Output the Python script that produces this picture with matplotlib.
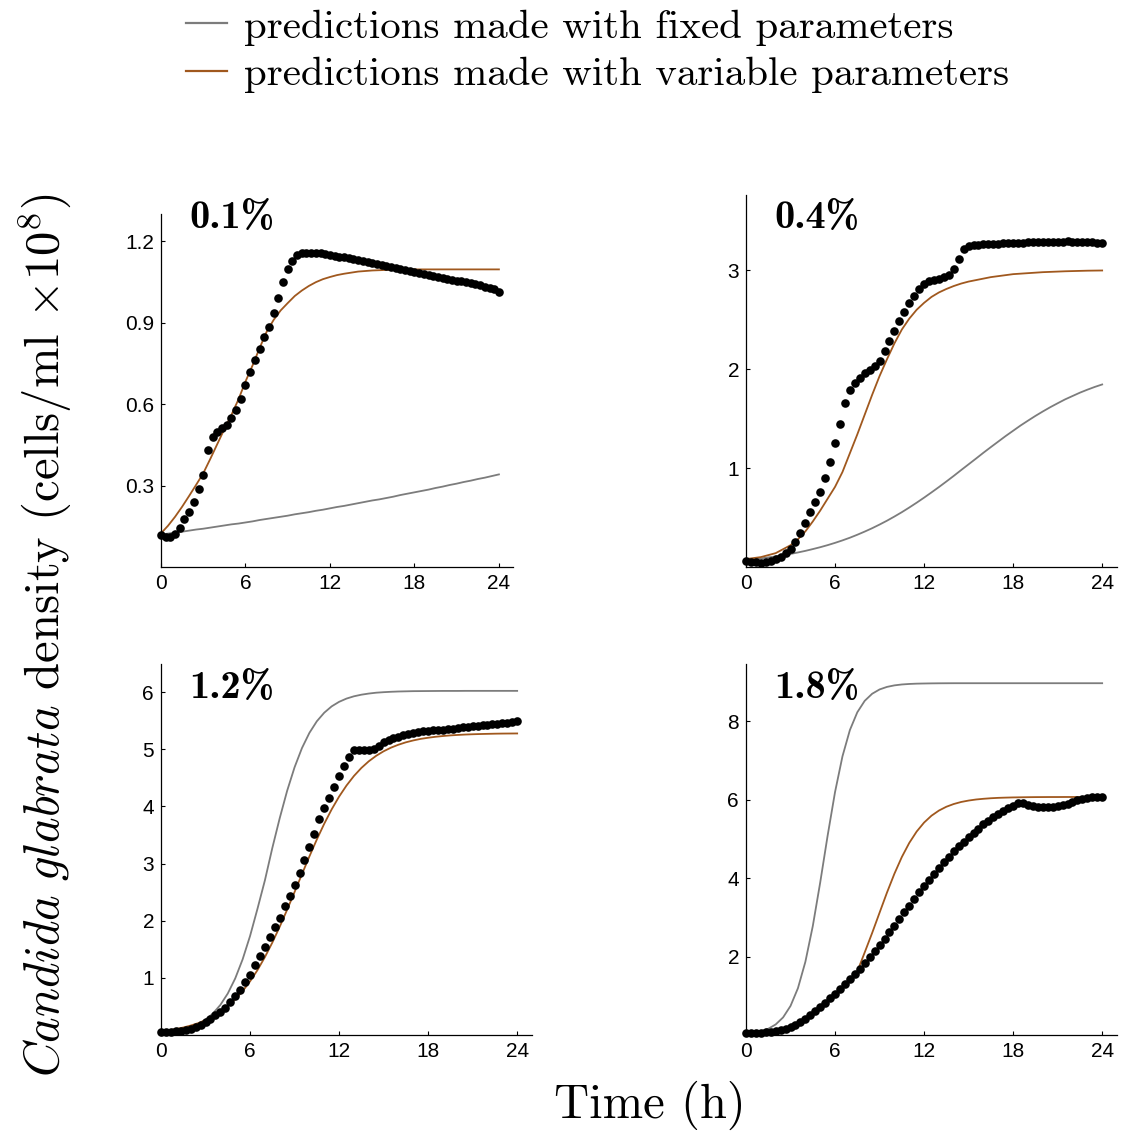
import numpy as np
import matplotlib
matplotlib.use("Agg")
import matplotlib.pyplot as plt
from matplotlib.lines import Line2D

# ---------------- data ----------------
panel_labels = ["0.1%", "0.4%", "1.2%", "1.8%"]
legend_labels = ["predictions made with fixed parameters",
                 "predictions made with variable parameters"]
x_ticks = [0, 6, 12, 18, 24]
y_ticks_01 = [0.3, 0.6, 0.9, 1.2]
y_ticks_04 = [1, 2, 3]
y_ticks_12 = [1, 2, 3, 4, 5, 6]
y_ticks_18 = [2, 4, 6, 8]
y_top = [1.30, 3.76, 6.49, 9.46]

# observation times (every 20 min) and model-curve times (every 30 min)
t_obs = np.arange(73) / 3.0
t_model = np.arange(49) * 0.5

obs_01 = [0.118, 0.112, 0.112, 0.122, 0.145, 0.175, 0.203, 0.24, 0.289, 0.34,
          0.43, 0.478, 0.496, 0.511, 0.522, 0.548, 0.58, 0.62, 0.67, 0.718,
          0.762, 0.804, 0.846, 0.885, 0.935, 0.99, 1.05, 1.097, 1.128, 1.15,
          1.157, 1.158, 1.158, 1.158, 1.156, 1.153, 1.149, 1.146, 1.143, 1.14,
          1.137, 1.133, 1.13, 1.127, 1.123, 1.12, 1.116, 1.113, 1.11, 1.106,
          1.102, 1.098, 1.094, 1.09, 1.086, 1.083, 1.079, 1.075, 1.071, 1.068,
          1.064, 1.061, 1.058, 1.055, 1.052, 1.048, 1.045, 1.042, 1.039, 1.033,
          1.028, 1.022, 1.013]
obs_04 = [0.064, 0.054, 0.047, 0.044, 0.047, 0.057, 0.077, 0.104, 0.138, 0.178,
          0.252, 0.339, 0.447, 0.551, 0.658, 0.756, 0.904, 1.061, 1.253, 1.448,
          1.659, 1.79, 1.858, 1.911, 1.96, 1.995, 2.036, 2.08, 2.18, 2.28,
          2.39, 2.49, 2.58, 2.665, 2.74, 2.808, 2.859, 2.888, 2.902, 2.916,
          2.935, 2.955, 3.01, 3.11, 3.21, 3.24, 3.25, 3.255, 3.26, 3.26,
          3.265, 3.265, 3.27, 3.27, 3.27, 3.275, 3.275, 3.28, 3.28, 3.28,
          3.28, 3.285, 3.285, 3.29, 3.29, 3.295, 3.29, 3.29, 3.285, 3.285,
          3.28, 3.275, 3.27]
obs_12 = [0.058, 0.058, 0.058, 0.064, 0.076, 0.087, 0.11, 0.14, 0.18, 0.227,
          0.286, 0.344, 0.402, 0.478, 0.571, 0.676, 0.787, 0.921, 1.055, 1.23,
          1.387, 1.533, 1.707, 1.894, 2.051, 2.255, 2.43, 2.622, 2.838, 3.059,
          3.292, 3.514, 3.77, 3.963, 4.138, 4.33, 4.528, 4.703, 4.866, 4.994,
          4.994, 4.98, 4.98, 5.01, 5.06, 5.12, 5.16, 5.19, 5.22, 5.245,
          5.265, 5.285, 5.30, 5.31, 5.32, 5.33, 5.335, 5.34, 5.35, 5.36,
          5.37, 5.38, 5.39, 5.40, 5.41, 5.42, 5.43, 5.44, 5.445, 5.45,
          5.46, 5.475, 5.49]
obs_18 = [0.06, 0.06, 0.06, 0.06, 0.065, 0.077, 0.094, 0.12, 0.153, 0.204,
          0.264, 0.332, 0.417, 0.50, 0.60, 0.71, 0.82, 0.94, 1.05, 1.17,
          1.29, 1.42, 1.55, 1.69, 1.83, 1.98, 2.13, 2.30, 2.46, 2.62,
          2.79, 2.96, 3.13, 3.30, 3.47, 3.64, 3.80, 3.95, 4.11, 4.26,
          4.40, 4.55, 4.68, 4.81, 4.93, 5.05, 5.16, 5.26, 5.37, 5.46,
          5.55, 5.63, 5.71, 5.78, 5.85, 5.91, 5.91, 5.87, 5.84, 5.82,
          5.81, 5.81, 5.82, 5.84, 5.87, 5.90, 5.95, 5.99, 6.02, 6.04,
          6.06, 6.07, 6.08]

fixed_01 = [0.120, 0.123, 0.127, 0.130, 0.134, 0.138, 0.141, 0.145, 0.149, 0.153,
            0.157, 0.160, 0.164, 0.168, 0.173, 0.177, 0.181, 0.185, 0.189, 0.194,
            0.198, 0.202, 0.207, 0.211, 0.216, 0.221, 0.225, 0.230, 0.235, 0.240,
            0.245, 0.249, 0.254, 0.259, 0.265, 0.270, 0.275, 0.280, 0.285, 0.291,
            0.296, 0.302, 0.307, 0.313, 0.318, 0.324, 0.329, 0.335, 0.341]
variable_01 = [0.124, 0.152, 0.185, 0.222, 0.262, 0.303, 0.345, 0.398, 0.453, 0.508,
               0.560, 0.617, 0.683, 0.742, 0.806, 0.866, 0.910, 0.945, 0.972, 0.998,
               1.018, 1.035, 1.049, 1.060, 1.068, 1.075, 1.080, 1.084, 1.088, 1.090,
               1.092, 1.093, 1.094, 1.095, 1.095, 1.096, 1.096, 1.096, 1.096, 1.096,
               1.096, 1.096, 1.096, 1.096, 1.096, 1.096, 1.096, 1.096, 1.096]
fixed_04 = [0.070, 0.078, 0.087, 0.097, 0.107, 0.119, 0.132, 0.147, 0.163, 0.181,
            0.200, 0.221, 0.244, 0.269, 0.296, 0.326, 0.358, 0.392, 0.429, 0.468,
            0.510, 0.554, 0.601, 0.650, 0.701, 0.754, 0.808, 0.864, 0.921, 0.980,
            1.038, 1.096, 1.155, 1.212, 1.268, 1.324, 1.377, 1.430, 1.479, 1.527,
            1.572, 1.615, 1.655, 1.694, 1.728, 1.762, 1.792, 1.820, 1.845]
variable_04 = [0.08, 0.09, 0.10, 0.12, 0.14, 0.18, 0.22, 0.28, 0.36, 0.46,
               0.57, 0.69, 0.81, 0.96, 1.15, 1.34, 1.54, 1.74, 1.93, 2.10,
               2.26, 2.40, 2.51, 2.60, 2.67, 2.73, 2.775, 2.81, 2.84, 2.865,
               2.885, 2.90, 2.915, 2.93, 2.94, 2.95, 2.96, 2.965, 2.97, 2.975,
               2.98, 2.983, 2.986, 2.989, 2.991, 2.993, 2.995, 2.996, 2.997]
fixed_12 = [0.032, 0.046, 0.066, 0.094, 0.134, 0.189, 0.268, 0.377, 0.526, 0.726,
            0.989, 1.323, 1.731, 2.207, 2.704, 3.270, 3.793, 4.272, 4.683, 5.020,
            5.285, 5.488, 5.638, 5.749, 5.828, 5.885, 5.925, 5.953, 5.973, 5.988,
            5.997, 6.004, 6.009, 6.012, 6.015, 6.016, 6.017, 6.018, 6.019, 6.019,
            6.019, 6.020, 6.020, 6.020, 6.020, 6.020, 6.020, 6.020, 6.020]
variable_12 = [0.065, 0.082, 0.104, 0.131, 0.165, 0.207, 0.260, 0.325, 0.406, 0.505,
               0.624, 0.768, 0.938, 1.135, 1.362, 1.616, 1.894, 2.192, 2.501, 2.815,
               3.124, 3.420, 3.696, 3.947, 4.170, 4.364, 4.531, 4.671, 4.788, 4.884,
               4.963, 5.027, 5.078, 5.120, 5.153, 5.180, 5.200, 5.217, 5.230, 5.241,
               5.249, 5.256, 5.261, 5.265, 5.268, 5.271, 5.273, 5.274, 5.275]
fixed_18 = [0.033, 0.055, 0.094, 0.159, 0.269, 0.449, 0.741, 1.194, 1.865, 2.776,
            3.888, 5.082, 6.195, 7.105, 7.775, 8.229, 8.521, 8.701, 8.811, 8.876,
            8.915, 8.938, 8.951, 8.959, 8.963, 8.966, 8.968, 8.969, 8.97, 8.97,
            8.97, 8.97, 8.97, 8.97, 8.97, 8.97, 8.97, 8.97, 8.97, 8.97,
            8.97, 8.97, 8.97, 8.97, 8.97, 8.97, 8.97, 8.97, 8.97]
variable_18 = [0.06, 0.06, 0.06, 0.07, 0.094, 0.135, 0.204, 0.30, 0.417, 0.55,
               0.71, 0.88, 1.05, 1.23, 1.42, 1.62, 2.107, 2.601, 3.118, 3.632,
               4.112, 4.538, 4.897, 5.188, 5.417, 5.592, 5.723, 5.820, 5.890, 5.942,
               5.978, 6.005, 6.023, 6.037, 6.047, 6.053, 6.058, 6.061, 6.064, 6.066,
               6.067, 6.068, 6.068, 6.069, 6.069, 6.069, 6.070, 6.070, 6.070]

# ---------------- style ----------------
plt.rcParams["font.family"] = ["Liberation Sans", "DejaVu Sans"]
plt.rcParams["mathtext.fontset"] = "cm"

GRAY = "#7c7c7c"
BROWN = "#A0581E"
W, H = 1128.0, 1135.0

fig = plt.figure(figsize=(W / 100, H / 100), dpi=100)

# axes rectangles in pixels: left, top, right, bottom
px_rects = [(161, 214, 513, 567), (746, 195, 1117, 567),
            (161, 664, 532, 1035), (746, 664, 1117, 1035)]

obs = [obs_01, obs_04, obs_12, obs_18]
fixed = [fixed_01, fixed_04, fixed_12, fixed_18]
variable = [variable_01, variable_04, variable_12, variable_18]
yticks = [y_ticks_01, y_ticks_04, y_ticks_12, y_ticks_18]
ylabels_fmt = ["{:.1f}", "{:d}", "{:d}", "{:d}"]
label_pos = [(189, 218), (774, 218), (189, 688), (774, 688)]

for i in range(4):
    l, t, r, b = px_rects[i]
    ax = fig.add_axes([l / W, 1 - b / H, (r - l) / W, (b - t) / H])
    ax.plot(t_model, fixed[i], color=GRAY, lw=1.3, zorder=2)
    ax.plot(t_model, variable[i], color=BROWN, lw=1.3, zorder=2)
    ax.plot(t_obs, obs[i], "o", color="black", ms=6.2, mec="none",
            zorder=3, clip_on=False)
    ax.set_xlim(0, 25)
    ax.set_ylim(0, y_top[i])
    ax.set_xticks(x_ticks)
    ax.set_xticklabels([str(v) for v in x_ticks])
    ax.set_yticks(yticks[i])
    ax.set_yticklabels([ylabels_fmt[i].format(v) for v in yticks[i]])
    for s in ("top", "right"):
        ax.spines[s].set_visible(False)
    for s in ("left", "bottom"):
        ax.spines[s].set_linewidth(0.9)
    ax.tick_params(direction="in", length=3, width=0.8, labelsize=15, pad=5)
    fig.text(label_pos[i][0] / W, 1 - label_pos[i][1] / H, panel_labels[i],
             family="cmb10", fontsize=29, ha="left", va="center")

handles = [Line2D([], [], color=GRAY, lw=1.6), Line2D([], [], color=BROWN, lw=1.6)]
fig.legend(handles=handles, labels=legend_labels, loc="upper left",
           bbox_to_anchor=(186 / W, 1 - 9 / H), frameon=False,
           prop=dict(family="cmr10", size=29.5), handlelength=1.0,
           handletextpad=0.42, labelspacing=0.27, borderpad=0, borderaxespad=0)

fig.text(45 / W, 1 - 635 / H,
         r"$\mathit{Candida\ glabrata}$ density (cells/ml $\times10^8$)",
         family="cmr10", fontsize=35, rotation=90, ha="center", va="center")
fig.text(650 / W, 1 - 1105 / H, "Time (h)", family="cmr10", fontsize=35,
         ha="center", va="center")

fig.savefig("out.png", dpi=100)
